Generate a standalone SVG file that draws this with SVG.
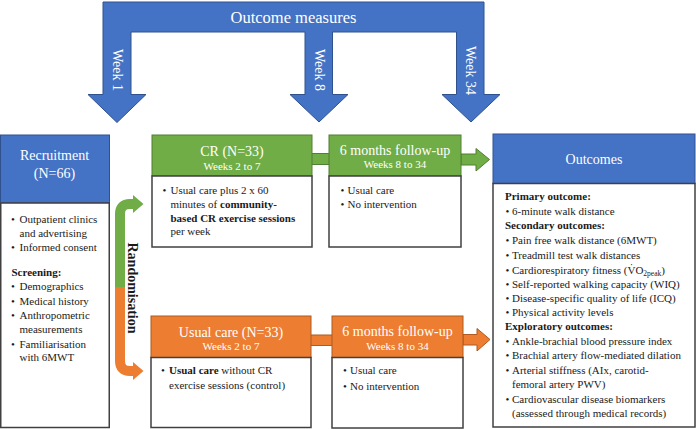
<svg xmlns="http://www.w3.org/2000/svg" width="696" height="429" viewBox="0 0 696 429" font-family="Liberation Serif, Times New Roman, DejaVu Serif, serif">
<style>
text{font-family:"Liberation Serif","Times New Roman","DejaVu Serif",serif;}
.hdr{fill:#fff;font-size:14px;text-anchor:middle;}
.sub{fill:#fff;font-size:11px;text-anchor:middle;}
.body{fill:#1a1a1a;font-size:11px;}
.b{font-weight:bold;}
.blue{fill:#4472C4;stroke:#2F528F;stroke-width:1;}
.green{fill:#70AD47;stroke:#507E32;stroke-width:1;}
.orange{fill:#ED7D31;stroke:#AE5A21;stroke-width:1;}
.box{fill:#fff;stroke:#404040;stroke-width:1.5;}
.wk{fill:#fff;font-size:14px;text-anchor:middle;dominant-baseline:central;}
</style>

<g id="outcome-measures">
<path class="blue" d="M103,2 H484 V32 H484 V94.5 H500 L471,122 L442,94.5 H456.5 V32 H332.5 V94.5 H348 L319,122 L290,94.5 H305 V32 H131 V94.5 H146 L117,122.5 L88,94.5 H103 Z"/>
<text x="293.5" y="22.5" fill="#fff" font-size="16.5" text-anchor="middle">Outcome measures</text>
<text class="wk" transform="translate(117.5,70) rotate(90)">Week 1</text>
<text class="wk" transform="translate(319,70) rotate(90)">Week 8</text>
<text class="wk" transform="translate(470.5,70.5) rotate(90)">Week 34</text>
</g>

<g id="connectors">
<path d="M120,288 V214 Q120,204 130,204 H134" fill="none" stroke="#70AD47" stroke-width="10"/>
<polygon points="133,195 143.5,204 133,213" fill="#70AD47"/>
<path d="M120,287 V361 Q120,371 130,371 H134" fill="none" stroke="#ED7D31" stroke-width="10"/>
<polygon points="133,362 143.5,371 133,380" fill="#ED7D31"/>
<text class="b" font-size="14" text-anchor="middle" dominant-baseline="central" transform="translate(132,288) rotate(90)" fill="#1a1a1a">Randomisation</text>
<rect x="311" y="153.5" width="19" height="11" class="green"/>
<path class="green" d="M461,154 H476 V148.5 L489.5,159.5 L476,171 V165 H461 Z"/>
<rect x="310" y="335" width="22.5" height="10.5" class="orange"/>
<path class="orange" d="M463,334.5 H477 V328.5 L490,339.5 L477,351 V345 H463 Z"/>
</g>

<g id="recruitment">
<rect x="0.5" y="135" width="109" height="68" class="blue"/>
<rect x="0.75" y="203" width="108.5" height="224.5" class="box"/>
<text class="hdr" x="54.5" y="160">Recruitment</text>
<text class="hdr" x="54.5" y="177.5">(N=66)</text>
<text class="body" y="223"><tspan x="11">•</tspan><tspan x="19.5">Outpatient clinics</tspan></text>
<text class="body" x="19.5" y="237">and advertising</text>
<text class="body" y="251"><tspan x="11">•</tspan><tspan x="19.5">Informed consent</tspan></text>
<text class="body b" x="11.5" y="276">Screening:</text>
<text class="body" y="290"><tspan x="11">•</tspan><tspan x="19.5">Demographics</tspan></text>
<text class="body" y="305"><tspan x="11">•</tspan><tspan x="19.5">Medical history</tspan></text>
<text class="body" y="319"><tspan x="11">•</tspan><tspan x="19.5">Anthropometric</tspan></text>
<text class="body" x="19.5" y="333">measurements</text>
<text class="body" y="348"><tspan x="11">•</tspan><tspan x="19.5">Familiarisation</tspan></text>
<text class="body" x="19.5" y="361">with 6MWT</text>
</g>

<g id="cr">
<rect x="152" y="135" width="160" height="41" class="green"/>
<rect x="152" y="176" width="160" height="71" class="box"/>
<text class="hdr" x="232" y="155.5">CR (N=33)</text>
<text class="sub" x="232" y="169.5">Weeks 2 to 7</text>
<text class="body" y="194"><tspan x="162.5">•</tspan><tspan x="170.5">Usual care plus 2 x 60</tspan></text>
<text class="body" x="170.5" y="208">minutes of <tspan class="b">community-</tspan></text>
<text class="body b" x="170.5" y="221.5">based CR exercise sessions</text>
<text class="body" x="170.5" y="235">per week</text>
</g>

<g id="cr-followup">
<rect x="329" y="135" width="132" height="41" class="green"/>
<rect x="329" y="176" width="132" height="71" class="box"/>
<text class="hdr" x="395" y="155">6 months follow-up</text>
<text class="sub" x="395" y="168">Weeks 8 to 34</text>
<text class="body" y="193.5"><tspan x="340.5">•</tspan><tspan x="347.5">Usual care</tspan></text>
<text class="body" y="207.5"><tspan x="340.5">•</tspan><tspan x="347.5">No intervention</tspan></text>
</g>

<g id="usual-care">
<rect x="151" y="316" width="160" height="41.5" class="orange"/>
<rect x="151" y="357.5" width="160" height="70" class="box"/>
<text class="hdr" x="231" y="336.5">Usual care (N=33)</text>
<text class="sub" x="231" y="350">Weeks 2 to 7</text>
<text class="body" y="374"><tspan x="161">•</tspan><tspan x="169" class="b">Usual care</tspan><tspan> without CR</tspan></text>
<text class="body" x="169" y="389">exercise sessions (control)</text>
</g>

<g id="usual-followup">
<rect x="332" y="316" width="131" height="41.5" class="orange"/>
<rect x="332" y="357.5" width="131" height="70.5" class="box"/>
<text class="hdr" x="397.5" y="336">6 months follow-up</text>
<text class="sub" x="397.5" y="349.5">Weeks 8 to 34</text>
<text class="body" y="374"><tspan x="343">•</tspan><tspan x="350">Usual care</tspan></text>
<text class="body" y="389.5"><tspan x="343">•</tspan><tspan x="350">No intervention</tspan></text>
</g>

<g id="outcomes">
<rect x="493" y="134" width="202" height="49.5" class="blue"/>
<rect x="493" y="183.5" width="202" height="243.5" class="box"/>
<text class="hdr" x="594" y="164">Outcomes</text>
<text class="body b" x="505" y="200">Primary outcome:</text>
<text class="body" y="215"><tspan x="505.5">•</tspan><tspan x="512">6-minute walk distance</tspan></text>
<text class="body b" x="505" y="229">Secondary outcomes:</text>
<text class="body" y="244"><tspan x="505.5">•</tspan><tspan x="512">Pain free walk distance (6MWT)</tspan></text>
<text class="body" y="258.5"><tspan x="505.5">•</tspan><tspan x="512">Treadmill test walk distances</tspan></text>
<text class="body" y="273.5"><tspan x="505.5">•</tspan><tspan x="512">Cardiorespiratory fitness (V̇O</tspan><tspan font-size="7.5" dy="2">2peak</tspan><tspan dy="-2">)</tspan></text>
<text class="body" y="288"><tspan x="505.5">•</tspan><tspan x="512">Self-reported walking capacity (WIQ)</tspan></text>
<text class="body" y="302"><tspan x="505.5">•</tspan><tspan x="512">Disease-specific quality of life (ICQ)</tspan></text>
<text class="body" y="316"><tspan x="505.5">•</tspan><tspan x="512">Physical activity levels</tspan></text>
<text class="body b" x="505" y="330">Exploratory outcomes:</text>
<text class="body" y="344.5"><tspan x="505.5">•</tspan><tspan x="512">Ankle-brachial blood pressure index</tspan></text>
<text class="body" y="359"><tspan x="505.5">•</tspan><tspan x="512">Brachial artery flow-mediated dilation</tspan></text>
<text class="body" y="373.5"><tspan x="505.5">•</tspan><tspan x="512">Arterial stiffness (AIx, carotid-</tspan></text>
<text class="body" x="512" y="388">femoral artery PWV)</text>
<text class="body" y="402.5"><tspan x="505.5">•</tspan><tspan x="512">Cardiovascular disease biomarkers</tspan></text>
<text class="body" x="512" y="417">(assessed through medical records)</text>
</g>
</svg>
